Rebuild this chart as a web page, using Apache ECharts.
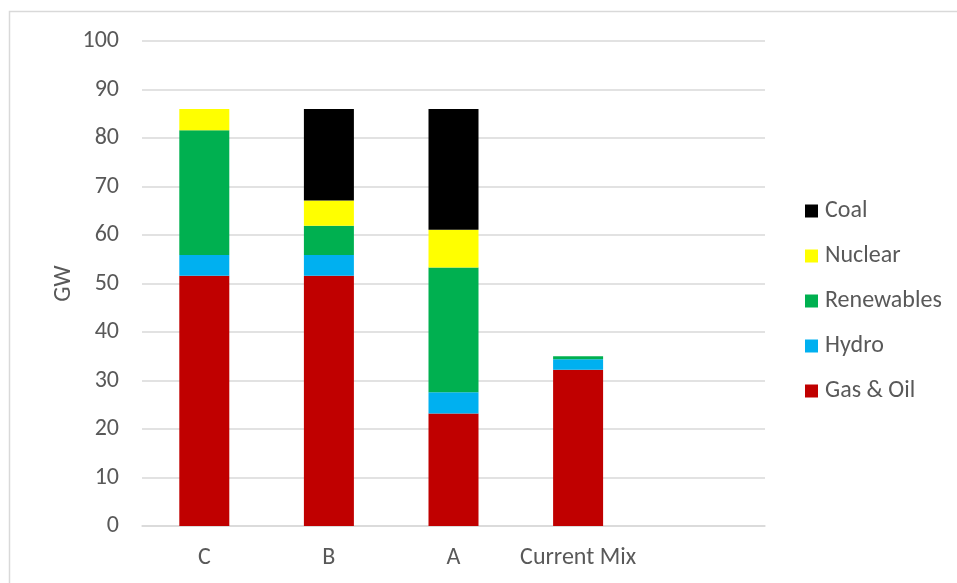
<!DOCTYPE html>
<html>
<head>
<meta charset="utf-8">
<script src="https://cdn.jsdelivr.net/npm/echarts@6/dist/echarts.min.js"></script>
<style>
html,body{margin:0;padding:0;background:#fff;}
#chart{width:957px;height:583px;}
</style>
</head>
<body>
<div id="chart"></div>
<script>
const categories = ['C', 'B', 'A', 'Current Mix', ''];
const gasOil = [51.6, 51.6, 23.2, 32.2, null];
const hydro = [4.3, 4.3, 4.4, 2.2, null];
const renewables = [25.7, 6.0, 25.7, 0.6, null];
const nuclear = [4.4, 5.2, 7.8, 0, null];
const coal = [0, 18.9, 24.9, 0, null];
const yTicks = [0, 100, 10];

const FONT = 'Carlito, "Open Sans", sans-serif';
const TXT = '#595959';

const chart = echarts.init(document.getElementById('chart'));
function s(name, data, color) {
  return {
    name: name, type: 'bar', stack: 'total', data: data, barWidth: 50,
    itemStyle: { color: color }, emphasis: { disabled: true }
  };
}
chart.setOption({
  animation: false,
  backgroundColor: '#fff',
  graphic: [{
    type: 'rect', silent: true, z: -1,
    shape: { x: 9.5, y: 11.5, width: 1200, height: 1000 },
    style: { fill: 'none', stroke: '#d9d9d9', lineWidth: 1.5 }
  }],
  grid: { left: 142, right: 192, top: 41, bottom: 57 },
  legend: {
    orient: 'vertical', left: 800, top: 194,
    itemWidth: 13, itemHeight: 13, itemGap: 21,
    icon: 'rect',
    data: ['Coal', 'Nuclear', 'Renewables', 'Hydro', 'Gas & Oil'],
    textStyle: { color: TXT, fontSize: 24, lineHeight: 24, fontFamily: FONT, padding: [0, 0, 0, 2] }
  },
  xAxis: {
    type: 'category', data: categories,
    axisLine: { lineStyle: { color: '#d9d9d9', width: 1.5 } },
    axisTick: { show: false },
    axisLabel: { color: TXT, fontSize: 24, fontFamily: FONT, margin: 20, interval: 0 }
  },
  yAxis: {
    type: 'value', min: yTicks[0], max: yTicks[1], interval: yTicks[2],
    name: 'GW', nameLocation: 'middle', nameGap: 66, nameMoveOverlap: false,
    nameTextStyle: { color: TXT, fontSize: 24, fontFamily: FONT },
    axisLine: { show: false }, axisTick: { show: false },
    axisLabel: { color: TXT, fontSize: 24, fontFamily: FONT, margin: 23 },
    splitLine: { lineStyle: { color: '#d9d9d9', width: 1.5 } }
  },
  series: [
    s('Gas & Oil', gasOil, '#C00000'),
    s('Hydro', hydro, '#00B0F0'),
    s('Renewables', renewables, '#00B050'),
    s('Nuclear', nuclear, '#FFFF00'),
    s('Coal', coal, '#000000')
  ]
});
</script>
</body>
</html>
